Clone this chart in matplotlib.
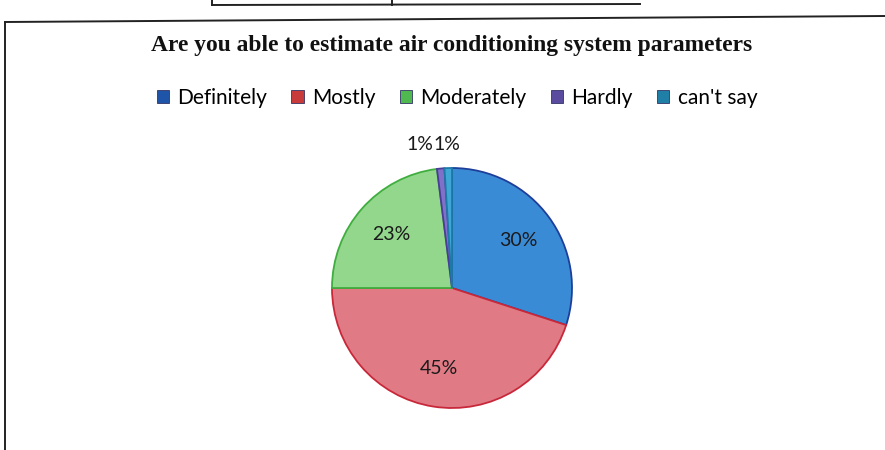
import numpy as np
import matplotlib.pyplot as plt
from matplotlib.patches import Patch
from matplotlib.lines import Line2D

# survey answers
categories = ["Definitely", "Mostly", "Moderately", "Hardly", "can't say"]
shares = [30, 45, 23, 1, 1]

fill_colors = ["#3a8bd6", "#e07b86", "#93d78c", "#8071c8", "#40a6d6"]
edge_colors = ["#1d3f9a", "#c8283a", "#3fae3f", "#4b3c99", "#1d7aa8"]
key_colors = ["#1f55a8", "#c93a3a", "#4fb84f", "#5a4b9e", "#1f7fa6"]

W, H = 885, 450
fig = plt.figure(figsize=(W / 100, H / 100), dpi=100)
fig.patch.set_facecolor("white")

def px(x, y):
    return x / W, 1 - y / H

# chart frame and the bit of table above it
frame = [((5, 22), (885, 16)), ((5, 22), (5, 450)), ((212, 5), (640, 4)),
         ((212, 0), (212, 5)), ((392, 0), (392, 5))]
for (x0, y0), (x1, y1) in frame:
    a, b = px(x0, y0)
    c, d = px(x1, y1)
    fig.add_artist(Line2D([a, c], [b, d], color="#222222", lw=1.4))

# pie, centre (452, 288), radius 120 px
cx, cy, r = 452, 288, 120
ax = fig.add_axes([(cx - r) / W, (H - cy - r) / H, 2 * r / W, 2 * r / H])
wedges, texts, autotexts = ax.pie(
    shares, colors=fill_colors, startangle=90, counterclock=False,
    autopct="%1.0f%%", pctdistance=0.68,
    wedgeprops=dict(linewidth=1.3),
    textprops=dict(fontsize=14, family="Lato", color="#1a1a1a"))
for w, ec in zip(wedges, edge_colors):
    w.set_edgecolor(ec)
ax.set_xlim(-1, 1)
ax.set_ylim(-1, 1)
ax.set_aspect("equal")

# the two 1% slices get their labels pulled above the pie, side by side
small = [i for i, v in enumerate(shares) if v < 5]
mid_x = np.mean([np.cos(np.deg2rad((wedges[i].theta1 + wedges[i].theta2) / 2))
                 for i in small])
for k, i in enumerate(small):
    t = autotexts[i]
    t.set_position((mid_x - 0.09, 1.2))
    t.set_ha("right" if k == 0 else "left")

fig.text(*px(452, 46), "Are you able to estimate air conditioning system parameters",
         ha="center", va="center", fontsize=16.9, fontweight="bold",
         family="Liberation Serif", color="#111111")

handles = [Patch(facecolor=c, edgecolor="#333366", linewidth=0.6) for c in key_colors]
fig.legend(handles, categories, loc="center", bbox_to_anchor=px(457, 98),
           ncol=5, frameon=False, prop=dict(family="Lato", size=15),
           handlelength=0.6, handleheight=0.6, handletextpad=0.4,
           columnspacing=1.15)

fig.savefig("out.png", dpi=100)
